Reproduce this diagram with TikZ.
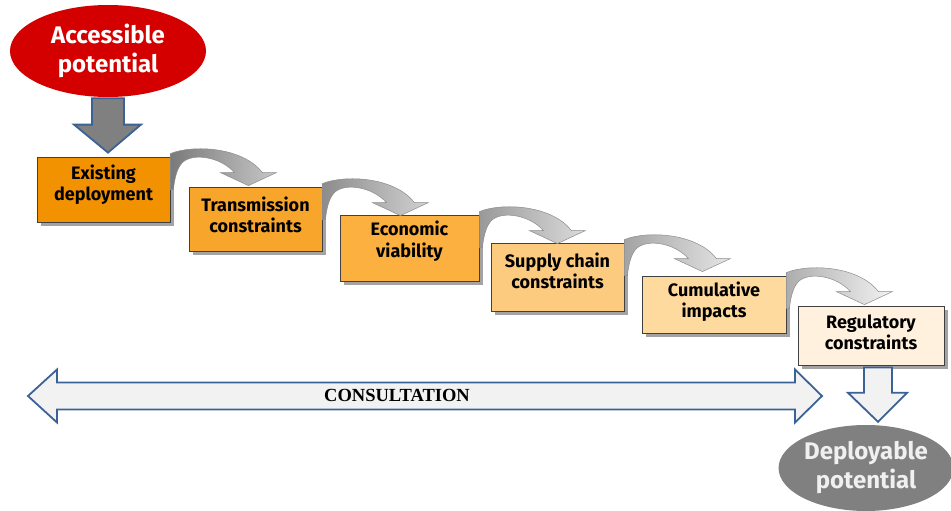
\documentclass[tikz,border=0pt]{standalone}
\usepackage{fontspec}
\setmainfont{Fira Sans}
\newfontfamily\consfont{Liberation Serif}
\usetikzlibrary{shadows,shapes.geometric}
\definecolor{accred}{HTML}{D40000}
\definecolor{bluebord}{HTML}{3B6296}
\definecolor{cA}{HTML}{F39200}
\definecolor{cB}{HTML}{F8A52C}
\definecolor{cC}{HTML}{FBB040}
\definecolor{cD}{HTML}{FDCB80}
\definecolor{cE}{HTML}{FFDA9E}
\definecolor{cF}{HTML}{FFF1DE}
\definecolor{lightfill}{HTML}{F2F2F2}
\definecolor{deppgrey}{HTML}{808080}
\tikzset{
  stagebox/.style={draw=black!75, line width=0.8pt, minimum width=#1, drop shadow={shadow xshift=3.5pt, shadow yshift=-3.5pt, fill=black!45, opacity=0.8}},
  stagetext/.style={font=\fontsize{18}{21.5}\selectfont\bfseries, align=center, text=black},
  ellipsetext/.style={font=\fontsize{24}{29}\selectfont\bfseries, align=center},
  blockarrow/.style={draw=bluebord, line width=1.8pt, line join=miter},
  curvearrow/.style={draw=black!45, line width=0.5pt}
}
\newcommand\curvedarrow[3]{%
  \begin{scope}[shift={(#1)}]
    \draw[curvearrow, left color=#2, right color=#3]
      (0,-3) .. controls (22,-12) and (72,-10) .. (92,16) -- (106,16) -- (78,29) -- (50,16) -- (64,16)
      .. controls (50,0) and (22,-4) .. (12,6) .. controls (6,12) and (4,24) .. (3,33) -- (0,33) -- cycle;
  \end{scope}}
\begin{document}
\begin{tikzpicture}[x=1pt,y=-1pt]
\useasboundingbox (0,0) rectangle (951,511);
% ellipses
\node[ellipse, fill=accred, minimum width=196, minimum height=92, text=white, ellipsetext, inner sep=0pt] (acc) at (108,51) {Accessible\\potential};
\node[ellipse, fill=deppgrey, minimum width=168, minimum height=86, text=white!94!black, ellipsetext, inner sep=0pt] (dep) at (866,468) {Deployable\\potential};
% boxes
\node[stagebox=133, minimum height=65, fill=cA] (b1) at (103.5,189.5) {};
\node[stagebox=133, minimum height=64, fill=cB] (b2) at (255.5,219) {};
\node[stagebox=139, minimum height=66, fill=cC] (b3) at (409.5,248) {};
\node[stagebox=133, minimum height=68, fill=cD] (b4) at (557.5,277) {};
\node[stagebox=144, minimum height=57, fill=cE] (b5) at (714,304.5) {};
\node[stagebox=146, minimum height=59, fill=cF] (b6) at (871,335.5) {};
% curved arrows
\curvedarrow{b1.north east}{black!52}{black!22}
\curvedarrow{b2.north east}{black!45}{black!18}
\curvedarrow{b3.north east}{black!40}{black!14}
\curvedarrow{b4.north east}{black!36}{black!10}
\curvedarrow{b5.north east}{black!32}{black!5}
% box texts
\node[stagetext] (t1) at ([yshift=5pt]b1.center) {Existing\\deployment};
\node[stagetext] (t2) at ([yshift=4pt]b2.center) {Transmission\\constraints};
\node[stagetext] (t3) at ([yshift=7pt]b3.center) {Economic\\viability};
\node[stagetext] (t4) at ([yshift=6pt]b4.center) {Supply chain\\constraints};
\node[stagetext] (t5) at ([yshift=3pt]b5.center) {Cumulative\\impacts};
\node[stagetext] (t6) at ([yshift=3pt]b6.center) {Regulatory\\constraints};
% down arrow from accessible potential
\coordinate (a0) at ([yshift=-1pt]acc.south);
\coordinate (a1) at ([yshift=4pt]b1.north -| a0);
\draw[blockarrow, fill=black!50]
  ([xshift=-16pt]a0) -- ([xshift=16pt]a0) -- ([xshift=16pt,yshift=28pt]a1) -- ([xshift=33pt,yshift=28pt]a1)
  -- (a1) -- ([xshift=-34pt,yshift=28pt]a1) -- ([xshift=-16pt,yshift=28pt]a1) -- cycle;
% down arrow to deployable potential
\coordinate (d0) at ([yshift=-2pt]b6.south -| 878,0);
\coordinate (d1) at ([yshift=3pt]dep.north -| 878,0);
\draw[blockarrow, fill=lightfill]
  ([xshift=-14pt]d0) -- ([xshift=14pt]d0) -- ([xshift=14pt,yshift=29pt]d1) -- ([xshift=29pt,yshift=29pt]d1)
  -- (d1) -- ([xshift=-30pt,yshift=29pt]d1) -- ([xshift=-14pt,yshift=29pt]d1) -- cycle;
% consultation double arrow
\coordinate (cl) at (28,396);
\coordinate (cr) at (822,396);
\draw[blockarrow, fill=lightfill]
  (cl) -- ([xshift=29pt,yshift=26.5pt]cl) -- ([xshift=29pt,yshift=13.5pt]cl) -- ([xshift=-27pt,yshift=13.5pt]cr)
  -- ([xshift=-27pt,yshift=26.5pt]cr) -- (cr) -- ([xshift=-27pt,yshift=-26.5pt]cr) -- ([xshift=-27pt,yshift=-13.5pt]cr)
  -- ([xshift=29pt,yshift=-13.5pt]cl) -- ([xshift=29pt,yshift=-26.5pt]cl) -- cycle;
\node[font=\consfont\fontsize{18.5}{20}\selectfont\bfseries] (cons) at (397,395) {CONSULTATION};
\end{tikzpicture}
\end{document}
